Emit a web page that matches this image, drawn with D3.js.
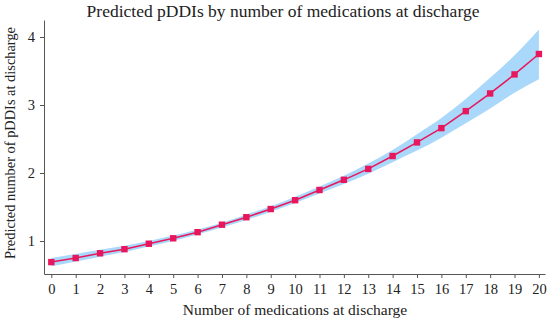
<!DOCTYPE html>
<html>
<head>
<meta charset="utf-8">
<script src="https://cdn.jsdelivr.net/npm/d3@7"></script>
<style>
  body { margin: 0; background: #fff; }
  text { font-family: "Liberation Serif", "DejaVu Serif", serif; fill: #222; }
</style>
</head>
<body>
<div id="chart"></div>
<script>
// predicted pDDIs vs number of meds at discharge
var meds = [0,1,2,3,4,5,6,7,8,9,10,11,12,13,14,15,16,17,18,19,20];
var predicted = [0.69,0.75,0.82,0.88,0.96,1.04,1.13,1.24,1.35,1.47,1.60,1.75,1.90,2.06,2.25,2.45,2.66,2.91,3.17,3.45,3.75];
var lower = [0.63,0.70,0.77,0.84,0.92,1.00,1.10,1.20,1.31,1.43,1.56,1.70,1.84,1.99,2.16,2.33,2.52,2.73,2.95,3.18,3.38];
var upper = [0.75,0.81,0.87,0.93,1.00,1.08,1.17,1.27,1.39,1.51,1.65,1.80,1.96,2.14,2.34,2.57,2.81,3.09,3.40,3.73,4.11];
var yTicks = [1,2,3,4];

var width = 550, height = 321;

var svg = d3.select("#chart").append("svg")
    .attr("width", width)
    .attr("height", height);

var x = d3.scaleLinear().domain([-0.3, 20.25]).range([44, 545]);
var y = d3.scaleLinear().domain([0.515, 4.25]).range([274, 20]);

var data = meds.map(function(m, i) {
  return {m: m, v: predicted[i], lo: lower[i], hi: upper[i]};
});

// confidence band
var area = d3.area()
    .x(function(d) { return x(d.m); })
    .y0(function(d) { return y(d.lo); })
    .y1(function(d) { return y(d.hi); })
    .curve(d3.curveMonotoneX);

svg.append("path")
    .datum(data)
    .attr("d", area)
    .attr("fill", "#a9d8fa");

var line = d3.line()
    .x(function(d) { return x(d.m); })
    .y(function(d) { return y(d.v); });

svg.append("path")
    .datum(data)
    .attr("d", line)
    .attr("fill", "none")
    .attr("stroke", "#e8175d")
    .attr("stroke-width", 1.5);

svg.selectAll(".pt")
    .data(data)
  .enter().append("rect")
    .attr("class", "pt")
    .attr("x", function(d) { return x(d.m) - 3.2; })
    .attr("y", function(d) { return y(d.v) - 3.2; })
    .attr("width", 6.4)
    .attr("height", 6.4)
    .attr("fill", "#e8175d");

// axes
var xAxis = svg.append("g")
    .attr("transform", "translate(0,274)")
    .call(d3.axisBottom(x).tickValues(meds).tickSize(4).tickPadding(6).tickSizeOuter(0));

var yAxis = svg.append("g")
    .attr("transform", "translate(44,0)")
    .call(d3.axisLeft(y).tickValues(yTicks).tickFormat(d3.format("d")).tickSize(4).tickPadding(5).tickSizeOuter(0));

[xAxis, yAxis].forEach(function(a) {
  a.select(".domain").attr("stroke", "#555");
  a.selectAll(".tick line").attr("stroke", "#555");
  a.selectAll(".tick text")
    .style("font-family", "'Liberation Serif', serif")
    .style("font-size", "14.5px")
    .attr("fill", "#222");
});

svg.append("text")
    .attr("x", 283)
    .attr("y", 17)
    .attr("text-anchor", "middle")
    .style("font-size", "17.5px")
    .text("Predicted pDDIs by number of medications at discharge");

svg.append("text")
    .attr("x", 295)
    .attr("y", 315)
    .attr("text-anchor", "middle")
    .style("font-size", "15.5px")
    .text("Number of medications at discharge");

svg.append("text")
    .attr("transform", "translate(15,143) rotate(-90)")
    .attr("text-anchor", "middle")
    .style("font-size", "14.4px")
    .text("Predicted number of pDDIs at discharge");
</script>
</body>
</html>
